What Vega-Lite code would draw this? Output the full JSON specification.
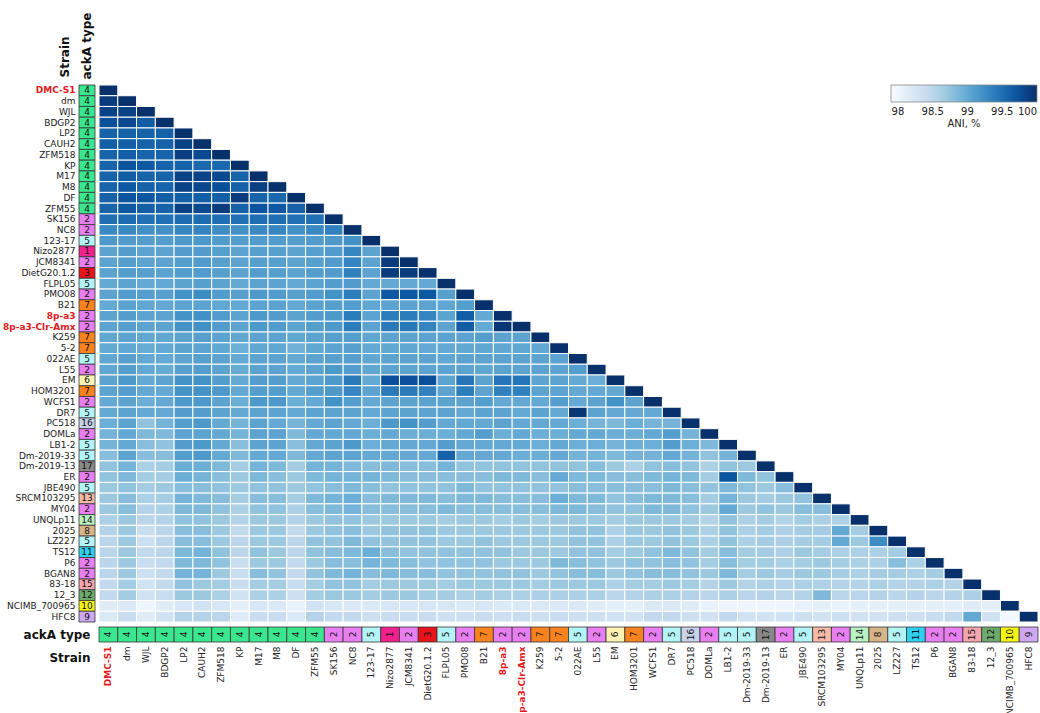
{
"$schema": "https://vega.github.io/schema/vega-lite/v6.json",
"background": "white",
"padding": {"left": 2, "top": 12, "right": 4, "bottom": 0},
"config": {
  "font": "DejaVu Sans",
  "view": {"stroke": null},
  "axis": {"labelFont": "DejaVu Sans", "titleFont": "DejaVu Sans", "labelColor": "#222", "titleColor": "#111", "domain": false, "ticks": false, "grid": false, "labelOverlap": false}
},
"columns": 2,
"bounds": "flush",
"spacing": {"row": 5, "column": 4},
"resolve": {"scale": {"color": "independent"}, "legend": {"color": "independent"}},
"datasets": {
"ack": [
{"strain":"DMC-S1","type":4},{"strain":"dm","type":4},{"strain":"WJL","type":4},{"strain":"BDGP2","type":4},{"strain":"LP2","type":4},{"strain":"CAUH2","type":4},{"strain":"ZFM518","type":4},{"strain":"KP","type":4},{"strain":"M17","type":4},{"strain":"M8","type":4},{"strain":"DF","type":4},{"strain":"ZFM55","type":4},{"strain":"SK156","type":2},{"strain":"NC8","type":2},{"strain":"123-17","type":5},{"strain":"Nizo2877","type":1},{"strain":"JCM8341","type":2},{"strain":"DietG20.1.2","type":3},{"strain":"FLPL05","type":5},{"strain":"PMO08","type":2},{"strain":"B21","type":7},{"strain":"8p-a3","type":2},{"strain":"8p-a3-Clr-Amx","type":2},{"strain":"K259","type":7},{"strain":"5-2","type":7},{"strain":"022AE","type":5},{"strain":"L55","type":2},{"strain":"EM","type":6},{"strain":"HOM3201","type":7},{"strain":"WCFS1","type":2},{"strain":"DR7","type":5},{"strain":"PC518","type":16},{"strain":"DOMLa","type":2},{"strain":"LB1-2","type":5},{"strain":"Dm-2019-33","type":5},{"strain":"Dm-2019-13","type":17},{"strain":"ER","type":2},{"strain":"JBE490","type":5},{"strain":"SRCM103295","type":13},{"strain":"MY04","type":2},{"strain":"UNQLp11","type":14},{"strain":"2025","type":8},{"strain":"LZ227","type":5},{"strain":"TS12","type":11},{"strain":"P6","type":2},{"strain":"BGAN8","type":2},{"strain":"83-18","type":15},{"strain":"12_3","type":12},{"strain":"NCIMB_700965","type":10},{"strain":"HFC8","type":9}
],
"ani": [
{"r":"DMC-S1","c":"DMC-S1","v":100},
{"r":"dm","c":"DMC-S1","v":99.9},{"r":"dm","c":"dm","v":100},
{"r":"WJL","c":"DMC-S1","v":99.85},{"r":"WJL","c":"dm","v":99.85},{"r":"WJL","c":"WJL","v":100},
{"r":"BDGP2","c":"DMC-S1","v":99.75},{"r":"BDGP2","c":"dm","v":99.8},{"r":"BDGP2","c":"WJL","v":99.65},{"r":"BDGP2","c":"BDGP2","v":100},
{"r":"LP2","c":"DMC-S1","v":99.6},{"r":"LP2","c":"dm","v":99.6},{"r":"LP2","c":"WJL","v":99.6},{"r":"LP2","c":"BDGP2","v":99.6},{"r":"LP2","c":"LP2","v":100},
{"r":"CAUH2","c":"DMC-S1","v":99.62},{"r":"CAUH2","c":"dm","v":99.62},{"r":"CAUH2","c":"WJL","v":99.6},{"r":"CAUH2","c":"BDGP2","v":99.6},{"r":"CAUH2","c":"LP2","v":99.85},{"r":"CAUH2","c":"CAUH2","v":100},
{"r":"ZFM518","c":"DMC-S1","v":99.58},{"r":"ZFM518","c":"dm","v":99.62},{"r":"ZFM518","c":"WJL","v":99.58},{"r":"ZFM518","c":"BDGP2","v":99.58},{"r":"ZFM518","c":"LP2","v":99.88},{"r":"ZFM518","c":"CAUH2","v":99.8},{"r":"ZFM518","c":"ZFM518","v":100},
{"r":"KP","c":"DMC-S1","v":99.58},{"r":"KP","c":"dm","v":99.72},{"r":"KP","c":"WJL","v":99.68},{"r":"KP","c":"BDGP2","v":99.58},{"r":"KP","c":"LP2","v":99.6},{"r":"KP","c":"CAUH2","v":99.55},{"r":"KP","c":"ZFM518","v":99.55},{"r":"KP","c":"KP","v":100},
{"r":"M17","c":"DMC-S1","v":99.58},{"r":"M17","c":"dm","v":99.65},{"r":"M17","c":"WJL","v":99.58},{"r":"M17","c":"BDGP2","v":99.58},{"r":"M17","c":"LP2","v":99.85},{"r":"M17","c":"CAUH2","v":99.85},{"r":"M17","c":"ZFM518","v":99.8},{"r":"M17","c":"KP","v":99.58},{"r":"M17","c":"M17","v":100},
{"r":"M8","c":"DMC-S1","v":99.58},{"r":"M8","c":"dm","v":99.68},{"r":"M8","c":"WJL","v":99.6},{"r":"M8","c":"BDGP2","v":99.58},{"r":"M8","c":"LP2","v":99.85},{"r":"M8","c":"CAUH2","v":99.82},{"r":"M8","c":"ZFM518","v":99.75},{"r":"M8","c":"KP","v":99.6},{"r":"M8","c":"M17","v":99.88},{"r":"M8","c":"M8","v":100},
{"r":"DF","c":"DMC-S1","v":99.6},{"r":"DF","c":"dm","v":99.72},{"r":"DF","c":"WJL","v":99.7},{"r":"DF","c":"BDGP2","v":99.62},{"r":"DF","c":"LP2","v":99.62},{"r":"DF","c":"CAUH2","v":99.62},{"r":"DF","c":"ZFM518","v":99.62},{"r":"DF","c":"KP","v":99.9},{"r":"DF","c":"M17","v":99.58},{"r":"DF","c":"M8","v":99.55},{"r":"DF","c":"DF","v":100},
{"r":"ZFM55","c":"DMC-S1","v":99.58},{"r":"ZFM55","c":"dm","v":99.68},{"r":"ZFM55","c":"WJL","v":99.62},{"r":"ZFM55","c":"BDGP2","v":99.6},{"r":"ZFM55","c":"LP2","v":99.85},{"r":"ZFM55","c":"CAUH2","v":99.8},{"r":"ZFM55","c":"ZFM518","v":99.9},{"r":"ZFM55","c":"KP","v":99.6},{"r":"ZFM55","c":"M17","v":99.72},{"r":"ZFM55","c":"M8","v":99.68},{"r":"ZFM55","c":"DF","v":99.6},{"r":"ZFM55","c":"ZFM55","v":100},
{"r":"SK156","c":"DMC-S1","v":99.5},{"r":"SK156","c":"dm","v":99.52},{"r":"SK156","c":"WJL","v":99.48},{"r":"SK156","c":"BDGP2","v":99.48},{"r":"SK156","c":"LP2","v":99.52},{"r":"SK156","c":"CAUH2","v":99.52},{"r":"SK156","c":"ZFM518","v":99.5},{"r":"SK156","c":"KP","v":99.48},{"r":"SK156","c":"M17","v":99.5},{"r":"SK156","c":"M8","v":99.5},{"r":"SK156","c":"DF","v":99.48},{"r":"SK156","c":"ZFM55","v":99.48},{"r":"SK156","c":"SK156","v":100},
{"r":"NC8","c":"DMC-S1","v":99.28},{"r":"NC8","c":"dm","v":99.28},{"r":"NC8","c":"WJL","v":99.22},{"r":"NC8","c":"BDGP2","v":99.22},{"r":"NC8","c":"LP2","v":99.3},{"r":"NC8","c":"CAUH2","v":99.32},{"r":"NC8","c":"ZFM518","v":99.25},{"r":"NC8","c":"KP","v":99.22},{"r":"NC8","c":"M17","v":99.28},{"r":"NC8","c":"M8","v":99.3},{"r":"NC8","c":"DF","v":99.22},{"r":"NC8","c":"ZFM55","v":99.28},{"r":"NC8","c":"SK156","v":99.35},{"r":"NC8","c":"NC8","v":100},
{"r":"123-17","c":"DMC-S1","v":99.15},{"r":"123-17","c":"dm","v":99.12},{"r":"123-17","c":"WJL","v":99.1},{"r":"123-17","c":"BDGP2","v":99.1},{"r":"123-17","c":"LP2","v":99.15},{"r":"123-17","c":"CAUH2","v":99.15},{"r":"123-17","c":"ZFM518","v":99.12},{"r":"123-17","c":"KP","v":99.1},{"r":"123-17","c":"M17","v":99.12},{"r":"123-17","c":"M8","v":99.12},{"r":"123-17","c":"DF","v":99.1},{"r":"123-17","c":"ZFM55","v":99.12},{"r":"123-17","c":"SK156","v":99.15},{"r":"123-17","c":"NC8","v":99.2},{"r":"123-17","c":"123-17","v":100},
{"r":"Nizo2877","c":"DMC-S1","v":99.05},{"r":"Nizo2877","c":"dm","v":99.1},{"r":"Nizo2877","c":"WJL","v":99.05},{"r":"Nizo2877","c":"BDGP2","v":99.05},{"r":"Nizo2877","c":"LP2","v":99.1},{"r":"Nizo2877","c":"CAUH2","v":99.12},{"r":"Nizo2877","c":"ZFM518","v":99.08},{"r":"Nizo2877","c":"KP","v":99.05},{"r":"Nizo2877","c":"M17","v":99.08},{"r":"Nizo2877","c":"M8","v":99.08},{"r":"Nizo2877","c":"DF","v":99.05},{"r":"Nizo2877","c":"ZFM55","v":99.08},{"r":"Nizo2877","c":"SK156","v":99.12},{"r":"Nizo2877","c":"NC8","v":99.3},{"r":"Nizo2877","c":"123-17","v":99.05},{"r":"Nizo2877","c":"Nizo2877","v":100},
{"r":"JCM8341","c":"DMC-S1","v":99.05},{"r":"JCM8341","c":"dm","v":99.1},{"r":"JCM8341","c":"WJL","v":99.05},{"r":"JCM8341","c":"BDGP2","v":99.05},{"r":"JCM8341","c":"LP2","v":99.1},{"r":"JCM8341","c":"CAUH2","v":99.12},{"r":"JCM8341","c":"ZFM518","v":99.08},{"r":"JCM8341","c":"KP","v":99.05},{"r":"JCM8341","c":"M17","v":99.08},{"r":"JCM8341","c":"M8","v":99.08},{"r":"JCM8341","c":"DF","v":99.05},{"r":"JCM8341","c":"ZFM55","v":99.08},{"r":"JCM8341","c":"SK156","v":99.12},{"r":"JCM8341","c":"NC8","v":99.32},{"r":"JCM8341","c":"123-17","v":99.05},{"r":"JCM8341","c":"Nizo2877","v":99.9},{"r":"JCM8341","c":"JCM8341","v":100},
{"r":"DietG20.1.2","c":"DMC-S1","v":99.05},{"r":"DietG20.1.2","c":"dm","v":99.1},{"r":"DietG20.1.2","c":"WJL","v":99.08},{"r":"DietG20.1.2","c":"BDGP2","v":99.05},{"r":"DietG20.1.2","c":"LP2","v":99.1},{"r":"DietG20.1.2","c":"CAUH2","v":99.12},{"r":"DietG20.1.2","c":"ZFM518","v":99.08},{"r":"DietG20.1.2","c":"KP","v":99.05},{"r":"DietG20.1.2","c":"M17","v":99.1},{"r":"DietG20.1.2","c":"M8","v":99.08},{"r":"DietG20.1.2","c":"DF","v":99.05},{"r":"DietG20.1.2","c":"ZFM55","v":99.1},{"r":"DietG20.1.2","c":"SK156","v":99.12},{"r":"DietG20.1.2","c":"NC8","v":99.35},{"r":"DietG20.1.2","c":"123-17","v":99.05},{"r":"DietG20.1.2","c":"Nizo2877","v":99.9},{"r":"DietG20.1.2","c":"JCM8341","v":99.9},{"r":"DietG20.1.2","c":"DietG20.1.2","v":100},
{"r":"FLPL05","c":"DMC-S1","v":99.0},{"r":"FLPL05","c":"dm","v":99.05},{"r":"FLPL05","c":"WJL","v":99.0},{"r":"FLPL05","c":"BDGP2","v":99.0},{"r":"FLPL05","c":"LP2","v":99.05},{"r":"FLPL05","c":"CAUH2","v":99.08},{"r":"FLPL05","c":"ZFM518","v":99.05},{"r":"FLPL05","c":"KP","v":99.0},{"r":"FLPL05","c":"M17","v":99.05},{"r":"FLPL05","c":"M8","v":99.05},{"r":"FLPL05","c":"DF","v":99.0},{"r":"FLPL05","c":"ZFM55","v":99.05},{"r":"FLPL05","c":"SK156","v":99.1},{"r":"FLPL05","c":"NC8","v":99.12},{"r":"FLPL05","c":"123-17","v":99.0},{"r":"FLPL05","c":"Nizo2877","v":99.0},{"r":"FLPL05","c":"JCM8341","v":99.0},{"r":"FLPL05","c":"DietG20.1.2","v":99.0},{"r":"FLPL05","c":"FLPL05","v":100},
{"r":"PMO08","c":"DMC-S1","v":99.05},{"r":"PMO08","c":"dm","v":99.12},{"r":"PMO08","c":"WJL","v":99.1},{"r":"PMO08","c":"BDGP2","v":99.08},{"r":"PMO08","c":"LP2","v":99.2},{"r":"PMO08","c":"CAUH2","v":99.25},{"r":"PMO08","c":"ZFM518","v":99.12},{"r":"PMO08","c":"KP","v":99.08},{"r":"PMO08","c":"M17","v":99.15},{"r":"PMO08","c":"M8","v":99.12},{"r":"PMO08","c":"DF","v":99.08},{"r":"PMO08","c":"ZFM55","v":99.12},{"r":"PMO08","c":"SK156","v":99.2},{"r":"PMO08","c":"NC8","v":99.38},{"r":"PMO08","c":"123-17","v":99.05},{"r":"PMO08","c":"Nizo2877","v":99.68},{"r":"PMO08","c":"JCM8341","v":99.68},{"r":"PMO08","c":"DietG20.1.2","v":99.68},{"r":"PMO08","c":"FLPL05","v":99.08},{"r":"PMO08","c":"PMO08","v":100},
{"r":"B21","c":"DMC-S1","v":99.0},{"r":"B21","c":"dm","v":99.05},{"r":"B21","c":"WJL","v":99.02},{"r":"B21","c":"BDGP2","v":99.0},{"r":"B21","c":"LP2","v":99.05},{"r":"B21","c":"CAUH2","v":99.05},{"r":"B21","c":"ZFM518","v":99.02},{"r":"B21","c":"KP","v":99.0},{"r":"B21","c":"M17","v":99.05},{"r":"B21","c":"M8","v":99.05},{"r":"B21","c":"DF","v":99.0},{"r":"B21","c":"ZFM55","v":99.05},{"r":"B21","c":"SK156","v":99.08},{"r":"B21","c":"NC8","v":99.1},{"r":"B21","c":"123-17","v":99.02},{"r":"B21","c":"Nizo2877","v":99.05},{"r":"B21","c":"JCM8341","v":99.05},{"r":"B21","c":"DietG20.1.2","v":99.05},{"r":"B21","c":"FLPL05","v":99.02},{"r":"B21","c":"PMO08","v":99.1},{"r":"B21","c":"B21","v":100},
{"r":"8p-a3","c":"DMC-S1","v":99.05},{"r":"8p-a3","c":"dm","v":99.1},{"r":"8p-a3","c":"WJL","v":99.05},{"r":"8p-a3","c":"BDGP2","v":99.05},{"r":"8p-a3","c":"LP2","v":99.2},{"r":"8p-a3","c":"CAUH2","v":99.22},{"r":"8p-a3","c":"ZFM518","v":99.12},{"r":"8p-a3","c":"KP","v":99.05},{"r":"8p-a3","c":"M17","v":99.15},{"r":"8p-a3","c":"M8","v":99.12},{"r":"8p-a3","c":"DF","v":99.05},{"r":"8p-a3","c":"ZFM55","v":99.1},{"r":"8p-a3","c":"SK156","v":99.15},{"r":"8p-a3","c":"NC8","v":99.38},{"r":"8p-a3","c":"123-17","v":99.05},{"r":"8p-a3","c":"Nizo2877","v":99.38},{"r":"8p-a3","c":"JCM8341","v":99.38},{"r":"8p-a3","c":"DietG20.1.2","v":99.32},{"r":"8p-a3","c":"FLPL05","v":99.05},{"r":"8p-a3","c":"PMO08","v":99.65},{"r":"8p-a3","c":"B21","v":99.0},{"r":"8p-a3","c":"8p-a3","v":100},
{"r":"8p-a3-Clr-Amx","c":"DMC-S1","v":99.05},{"r":"8p-a3-Clr-Amx","c":"dm","v":99.1},{"r":"8p-a3-Clr-Amx","c":"WJL","v":99.05},{"r":"8p-a3-Clr-Amx","c":"BDGP2","v":99.05},{"r":"8p-a3-Clr-Amx","c":"LP2","v":99.2},{"r":"8p-a3-Clr-Amx","c":"CAUH2","v":99.22},{"r":"8p-a3-Clr-Amx","c":"ZFM518","v":99.12},{"r":"8p-a3-Clr-Amx","c":"KP","v":99.05},{"r":"8p-a3-Clr-Amx","c":"M17","v":99.15},{"r":"8p-a3-Clr-Amx","c":"M8","v":99.12},{"r":"8p-a3-Clr-Amx","c":"DF","v":99.05},{"r":"8p-a3-Clr-Amx","c":"ZFM55","v":99.1},{"r":"8p-a3-Clr-Amx","c":"SK156","v":99.15},{"r":"8p-a3-Clr-Amx","c":"NC8","v":99.38},{"r":"8p-a3-Clr-Amx","c":"123-17","v":99.05},{"r":"8p-a3-Clr-Amx","c":"Nizo2877","v":99.4},{"r":"8p-a3-Clr-Amx","c":"JCM8341","v":99.42},{"r":"8p-a3-Clr-Amx","c":"DietG20.1.2","v":99.32},{"r":"8p-a3-Clr-Amx","c":"FLPL05","v":99.05},{"r":"8p-a3-Clr-Amx","c":"PMO08","v":99.65},{"r":"8p-a3-Clr-Amx","c":"B21","v":99.0},{"r":"8p-a3-Clr-Amx","c":"8p-a3","v":99.95},{"r":"8p-a3-Clr-Amx","c":"8p-a3-Clr-Amx","v":100},
{"r":"K259","c":"DMC-S1","v":99.02},{"r":"K259","c":"dm","v":99.05},{"r":"K259","c":"WJL","v":99.02},{"r":"K259","c":"BDGP2","v":99.02},{"r":"K259","c":"LP2","v":99.05},{"r":"K259","c":"CAUH2","v":99.08},{"r":"K259","c":"ZFM518","v":99.05},{"r":"K259","c":"KP","v":99.02},{"r":"K259","c":"M17","v":99.05},{"r":"K259","c":"M8","v":99.05},{"r":"K259","c":"DF","v":99.02},{"r":"K259","c":"ZFM55","v":99.05},{"r":"K259","c":"SK156","v":99.08},{"r":"K259","c":"NC8","v":99.1},{"r":"K259","c":"123-17","v":99.02},{"r":"K259","c":"Nizo2877","v":99.05},{"r":"K259","c":"JCM8341","v":99.05},{"r":"K259","c":"DietG20.1.2","v":99.05},{"r":"K259","c":"FLPL05","v":99.05},{"r":"K259","c":"PMO08","v":99.05},{"r":"K259","c":"B21","v":99.1},{"r":"K259","c":"8p-a3","v":99.05},{"r":"K259","c":"8p-a3-Clr-Amx","v":99.05},{"r":"K259","c":"K259","v":100},
{"r":"5-2","c":"DMC-S1","v":99.0},{"r":"5-2","c":"dm","v":99.02},{"r":"5-2","c":"WJL","v":98.98},{"r":"5-2","c":"BDGP2","v":99.0},{"r":"5-2","c":"LP2","v":99.05},{"r":"5-2","c":"CAUH2","v":99.05},{"r":"5-2","c":"ZFM518","v":99.02},{"r":"5-2","c":"KP","v":98.95},{"r":"5-2","c":"M17","v":99.02},{"r":"5-2","c":"M8","v":99.02},{"r":"5-2","c":"DF","v":98.92},{"r":"5-2","c":"ZFM55","v":99.02},{"r":"5-2","c":"SK156","v":99.05},{"r":"5-2","c":"NC8","v":99.08},{"r":"5-2","c":"123-17","v":99.0},{"r":"5-2","c":"Nizo2877","v":99.02},{"r":"5-2","c":"JCM8341","v":99.02},{"r":"5-2","c":"DietG20.1.2","v":99.0},{"r":"5-2","c":"FLPL05","v":99.0},{"r":"5-2","c":"PMO08","v":99.02},{"r":"5-2","c":"B21","v":99.02},{"r":"5-2","c":"8p-a3","v":99.02},{"r":"5-2","c":"8p-a3-Clr-Amx","v":99.02},{"r":"5-2","c":"K259","v":99.02},{"r":"5-2","c":"5-2","v":100},
{"r":"022AE","c":"DMC-S1","v":99.02},{"r":"022AE","c":"dm","v":99.08},{"r":"022AE","c":"WJL","v":99.0},{"r":"022AE","c":"BDGP2","v":99.0},{"r":"022AE","c":"LP2","v":99.05},{"r":"022AE","c":"CAUH2","v":99.08},{"r":"022AE","c":"ZFM518","v":99.05},{"r":"022AE","c":"KP","v":99.0},{"r":"022AE","c":"M17","v":99.05},{"r":"022AE","c":"M8","v":99.05},{"r":"022AE","c":"DF","v":99.0},{"r":"022AE","c":"ZFM55","v":99.05},{"r":"022AE","c":"SK156","v":99.08},{"r":"022AE","c":"NC8","v":99.08},{"r":"022AE","c":"123-17","v":99.02},{"r":"022AE","c":"Nizo2877","v":99.05},{"r":"022AE","c":"JCM8341","v":99.05},{"r":"022AE","c":"DietG20.1.2","v":99.05},{"r":"022AE","c":"FLPL05","v":99.02},{"r":"022AE","c":"PMO08","v":99.05},{"r":"022AE","c":"B21","v":99.05},{"r":"022AE","c":"8p-a3","v":99.05},{"r":"022AE","c":"8p-a3-Clr-Amx","v":99.05},{"r":"022AE","c":"K259","v":99.05},{"r":"022AE","c":"5-2","v":99.05},{"r":"022AE","c":"022AE","v":100},
{"r":"L55","c":"DMC-S1","v":99.02},{"r":"L55","c":"dm","v":99.1},{"r":"L55","c":"WJL","v":99.0},{"r":"L55","c":"BDGP2","v":98.98},{"r":"L55","c":"LP2","v":99.08},{"r":"L55","c":"CAUH2","v":99.1},{"r":"L55","c":"ZFM518","v":99.05},{"r":"L55","c":"KP","v":98.98},{"r":"L55","c":"M17","v":99.05},{"r":"L55","c":"M8","v":99.05},{"r":"L55","c":"DF","v":99.0},{"r":"L55","c":"ZFM55","v":99.05},{"r":"L55","c":"SK156","v":99.15},{"r":"L55","c":"NC8","v":99.1},{"r":"L55","c":"123-17","v":99.02},{"r":"L55","c":"Nizo2877","v":99.05},{"r":"L55","c":"JCM8341","v":99.05},{"r":"L55","c":"DietG20.1.2","v":99.05},{"r":"L55","c":"FLPL05","v":99.05},{"r":"L55","c":"PMO08","v":99.05},{"r":"L55","c":"B21","v":99.02},{"r":"L55","c":"8p-a3","v":99.05},{"r":"L55","c":"8p-a3-Clr-Amx","v":99.05},{"r":"L55","c":"K259","v":99.05},{"r":"L55","c":"5-2","v":99.05},{"r":"L55","c":"022AE","v":99.1},{"r":"L55","c":"L55","v":100},
{"r":"EM","c":"DMC-S1","v":99.05},{"r":"EM","c":"dm","v":99.15},{"r":"EM","c":"WJL","v":99.0},{"r":"EM","c":"BDGP2","v":99.05},{"r":"EM","c":"LP2","v":99.2},{"r":"EM","c":"CAUH2","v":99.2},{"r":"EM","c":"ZFM518","v":99.1},{"r":"EM","c":"KP","v":99.0},{"r":"EM","c":"M17","v":99.1},{"r":"EM","c":"M8","v":99.1},{"r":"EM","c":"DF","v":99.0},{"r":"EM","c":"ZFM55","v":99.05},{"r":"EM","c":"SK156","v":99.15},{"r":"EM","c":"NC8","v":99.4},{"r":"EM","c":"123-17","v":99.0},{"r":"EM","c":"Nizo2877","v":99.75},{"r":"EM","c":"JCM8341","v":99.75},{"r":"EM","c":"DietG20.1.2","v":99.75},{"r":"EM","c":"FLPL05","v":99.05},{"r":"EM","c":"PMO08","v":99.45},{"r":"EM","c":"B21","v":99.05},{"r":"EM","c":"8p-a3","v":99.45},{"r":"EM","c":"8p-a3-Clr-Amx","v":99.45},{"r":"EM","c":"K259","v":99.05},{"r":"EM","c":"5-2","v":99.05},{"r":"EM","c":"022AE","v":99.0},{"r":"EM","c":"L55","v":98.95},{"r":"EM","c":"EM","v":100},
{"r":"HOM3201","c":"DMC-S1","v":99.05},{"r":"HOM3201","c":"dm","v":99.1},{"r":"HOM3201","c":"WJL","v":99.0},{"r":"HOM3201","c":"BDGP2","v":99.0},{"r":"HOM3201","c":"LP2","v":99.2},{"r":"HOM3201","c":"CAUH2","v":99.2},{"r":"HOM3201","c":"ZFM518","v":99.15},{"r":"HOM3201","c":"KP","v":99.0},{"r":"HOM3201","c":"M17","v":99.1},{"r":"HOM3201","c":"M8","v":99.1},{"r":"HOM3201","c":"DF","v":99.0},{"r":"HOM3201","c":"ZFM55","v":99.1},{"r":"HOM3201","c":"SK156","v":99.15},{"r":"HOM3201","c":"NC8","v":99.3},{"r":"HOM3201","c":"123-17","v":99.05},{"r":"HOM3201","c":"Nizo2877","v":99.4},{"r":"HOM3201","c":"JCM8341","v":99.4},{"r":"HOM3201","c":"DietG20.1.2","v":99.35},{"r":"HOM3201","c":"FLPL05","v":99.05},{"r":"HOM3201","c":"PMO08","v":99.38},{"r":"HOM3201","c":"B21","v":99.05},{"r":"HOM3201","c":"8p-a3","v":99.35},{"r":"HOM3201","c":"8p-a3-Clr-Amx","v":99.35},{"r":"HOM3201","c":"K259","v":99.05},{"r":"HOM3201","c":"5-2","v":99.05},{"r":"HOM3201","c":"022AE","v":99.0},{"r":"HOM3201","c":"L55","v":99.0},{"r":"HOM3201","c":"EM","v":99.0},{"r":"HOM3201","c":"HOM3201","v":100},
{"r":"WCFS1","c":"DMC-S1","v":99.0},{"r":"WCFS1","c":"dm","v":99.05},{"r":"WCFS1","c":"WJL","v":98.95},{"r":"WCFS1","c":"BDGP2","v":99.0},{"r":"WCFS1","c":"LP2","v":99.15},{"r":"WCFS1","c":"CAUH2","v":99.15},{"r":"WCFS1","c":"ZFM518","v":99.05},{"r":"WCFS1","c":"KP","v":98.95},{"r":"WCFS1","c":"M17","v":99.15},{"r":"WCFS1","c":"M8","v":99.15},{"r":"WCFS1","c":"DF","v":98.95},{"r":"WCFS1","c":"ZFM55","v":99.0},{"r":"WCFS1","c":"SK156","v":99.2},{"r":"WCFS1","c":"NC8","v":99.1},{"r":"WCFS1","c":"123-17","v":99.0},{"r":"WCFS1","c":"Nizo2877","v":99.05},{"r":"WCFS1","c":"JCM8341","v":99.05},{"r":"WCFS1","c":"DietG20.1.2","v":99.05},{"r":"WCFS1","c":"FLPL05","v":99.05},{"r":"WCFS1","c":"PMO08","v":99.05},{"r":"WCFS1","c":"B21","v":99.1},{"r":"WCFS1","c":"8p-a3","v":99.0},{"r":"WCFS1","c":"8p-a3-Clr-Amx","v":99.0},{"r":"WCFS1","c":"K259","v":99.0},{"r":"WCFS1","c":"5-2","v":99.1},{"r":"WCFS1","c":"022AE","v":99.0},{"r":"WCFS1","c":"L55","v":99.05},{"r":"WCFS1","c":"EM","v":99.2},{"r":"WCFS1","c":"HOM3201","v":99.05},{"r":"WCFS1","c":"WCFS1","v":100},
{"r":"DR7","c":"DMC-S1","v":99.0},{"r":"DR7","c":"dm","v":99.05},{"r":"DR7","c":"WJL","v":99.0},{"r":"DR7","c":"BDGP2","v":99.0},{"r":"DR7","c":"LP2","v":99.1},{"r":"DR7","c":"CAUH2","v":99.1},{"r":"DR7","c":"ZFM518","v":99.05},{"r":"DR7","c":"KP","v":99.0},{"r":"DR7","c":"M17","v":99.05},{"r":"DR7","c":"M8","v":99.05},{"r":"DR7","c":"DF","v":99.0},{"r":"DR7","c":"ZFM55","v":99.05},{"r":"DR7","c":"SK156","v":99.05},{"r":"DR7","c":"NC8","v":99.05},{"r":"DR7","c":"123-17","v":99.0},{"r":"DR7","c":"Nizo2877","v":99.05},{"r":"DR7","c":"JCM8341","v":99.05},{"r":"DR7","c":"DietG20.1.2","v":99.05},{"r":"DR7","c":"FLPL05","v":99.05},{"r":"DR7","c":"PMO08","v":99.0},{"r":"DR7","c":"B21","v":99.05},{"r":"DR7","c":"8p-a3","v":99.05},{"r":"DR7","c":"8p-a3-Clr-Amx","v":99.0},{"r":"DR7","c":"K259","v":99.05},{"r":"DR7","c":"5-2","v":99.0},{"r":"DR7","c":"022AE","v":99.95},{"r":"DR7","c":"L55","v":99.05},{"r":"DR7","c":"EM","v":99.0},{"r":"DR7","c":"HOM3201","v":99.0},{"r":"DR7","c":"WCFS1","v":99.0},{"r":"DR7","c":"DR7","v":100},
{"r":"PC518","c":"DMC-S1","v":98.95},{"r":"PC518","c":"dm","v":99.05},{"r":"PC518","c":"WJL","v":98.75},{"r":"PC518","c":"BDGP2","v":98.9},{"r":"PC518","c":"LP2","v":99.1},{"r":"PC518","c":"CAUH2","v":99.15},{"r":"PC518","c":"ZFM518","v":99.0},{"r":"PC518","c":"KP","v":98.9},{"r":"PC518","c":"M17","v":99.05},{"r":"PC518","c":"M8","v":99.0},{"r":"PC518","c":"DF","v":98.9},{"r":"PC518","c":"ZFM55","v":99.0},{"r":"PC518","c":"SK156","v":99.05},{"r":"PC518","c":"NC8","v":99.0},{"r":"PC518","c":"123-17","v":98.95},{"r":"PC518","c":"Nizo2877","v":99.15},{"r":"PC518","c":"JCM8341","v":99.2},{"r":"PC518","c":"DietG20.1.2","v":99.1},{"r":"PC518","c":"FLPL05","v":99.0},{"r":"PC518","c":"PMO08","v":99.0},{"r":"PC518","c":"B21","v":99.0},{"r":"PC518","c":"8p-a3","v":99.05},{"r":"PC518","c":"8p-a3-Clr-Amx","v":99.0},{"r":"PC518","c":"K259","v":99.0},{"r":"PC518","c":"5-2","v":99.0},{"r":"PC518","c":"022AE","v":98.95},{"r":"PC518","c":"L55","v":98.9},{"r":"PC518","c":"EM","v":98.85},{"r":"PC518","c":"HOM3201","v":98.95},{"r":"PC518","c":"WCFS1","v":98.9},{"r":"PC518","c":"DR7","v":98.9},{"r":"PC518","c":"PC518","v":100},
{"r":"DOMLa","c":"DMC-S1","v":98.9},{"r":"DOMLa","c":"dm","v":99.0},{"r":"DOMLa","c":"WJL","v":98.85},{"r":"DOMLa","c":"BDGP2","v":98.85},{"r":"DOMLa","c":"LP2","v":99.05},{"r":"DOMLa","c":"CAUH2","v":99.05},{"r":"DOMLa","c":"ZFM518","v":99.0},{"r":"DOMLa","c":"KP","v":98.9},{"r":"DOMLa","c":"M17","v":99.05},{"r":"DOMLa","c":"M8","v":99.05},{"r":"DOMLa","c":"DF","v":98.85},{"r":"DOMLa","c":"ZFM55","v":99.0},{"r":"DOMLa","c":"SK156","v":99.0},{"r":"DOMLa","c":"NC8","v":99.0},{"r":"DOMLa","c":"123-17","v":98.95},{"r":"DOMLa","c":"Nizo2877","v":99.0},{"r":"DOMLa","c":"JCM8341","v":98.95},{"r":"DOMLa","c":"DietG20.1.2","v":98.95},{"r":"DOMLa","c":"FLPL05","v":98.95},{"r":"DOMLa","c":"PMO08","v":99.0},{"r":"DOMLa","c":"B21","v":99.1},{"r":"DOMLa","c":"8p-a3","v":98.95},{"r":"DOMLa","c":"8p-a3-Clr-Amx","v":99.0},{"r":"DOMLa","c":"K259","v":98.95},{"r":"DOMLa","c":"5-2","v":98.95},{"r":"DOMLa","c":"022AE","v":99.0},{"r":"DOMLa","c":"L55","v":99.0},{"r":"DOMLa","c":"EM","v":98.95},{"r":"DOMLa","c":"HOM3201","v":98.95},{"r":"DOMLa","c":"WCFS1","v":99.0},{"r":"DOMLa","c":"DR7","v":99.1},{"r":"DOMLa","c":"PC518","v":98.9},{"r":"DOMLa","c":"DOMLa","v":100},
{"r":"LB1-2","c":"DMC-S1","v":98.9},{"r":"LB1-2","c":"dm","v":99.0},{"r":"LB1-2","c":"WJL","v":98.8},{"r":"LB1-2","c":"BDGP2","v":98.75},{"r":"LB1-2","c":"LP2","v":99.1},{"r":"LB1-2","c":"CAUH2","v":99.15},{"r":"LB1-2","c":"ZFM518","v":99.0},{"r":"LB1-2","c":"KP","v":98.8},{"r":"LB1-2","c":"M17","v":99.05},{"r":"LB1-2","c":"M8","v":99.05},{"r":"LB1-2","c":"DF","v":98.8},{"r":"LB1-2","c":"ZFM55","v":99.0},{"r":"LB1-2","c":"SK156","v":99.05},{"r":"LB1-2","c":"NC8","v":99.15},{"r":"LB1-2","c":"123-17","v":98.95},{"r":"LB1-2","c":"Nizo2877","v":99.0},{"r":"LB1-2","c":"JCM8341","v":99.0},{"r":"LB1-2","c":"DietG20.1.2","v":99.0},{"r":"LB1-2","c":"FLPL05","v":99.1},{"r":"LB1-2","c":"PMO08","v":99.0},{"r":"LB1-2","c":"B21","v":99.0},{"r":"LB1-2","c":"8p-a3","v":99.0},{"r":"LB1-2","c":"8p-a3-Clr-Amx","v":99.0},{"r":"LB1-2","c":"K259","v":98.95},{"r":"LB1-2","c":"5-2","v":99.0},{"r":"LB1-2","c":"022AE","v":98.95},{"r":"LB1-2","c":"L55","v":98.95},{"r":"LB1-2","c":"EM","v":98.9},{"r":"LB1-2","c":"HOM3201","v":98.95},{"r":"LB1-2","c":"WCFS1","v":98.95},{"r":"LB1-2","c":"DR7","v":99.1},{"r":"LB1-2","c":"PC518","v":98.95},{"r":"LB1-2","c":"DOMLa","v":98.85},{"r":"LB1-2","c":"LB1-2","v":100},
{"r":"Dm-2019-33","c":"DMC-S1","v":98.8},{"r":"Dm-2019-33","c":"dm","v":99.05},{"r":"Dm-2019-33","c":"WJL","v":98.8},{"r":"Dm-2019-33","c":"BDGP2","v":98.8},{"r":"Dm-2019-33","c":"LP2","v":99.1},{"r":"Dm-2019-33","c":"CAUH2","v":99.15},{"r":"Dm-2019-33","c":"ZFM518","v":99.0},{"r":"Dm-2019-33","c":"KP","v":98.85},{"r":"Dm-2019-33","c":"M17","v":99.0},{"r":"Dm-2019-33","c":"M8","v":99.0},{"r":"Dm-2019-33","c":"DF","v":98.85},{"r":"Dm-2019-33","c":"ZFM55","v":99.0},{"r":"Dm-2019-33","c":"SK156","v":99.05},{"r":"Dm-2019-33","c":"NC8","v":99.05},{"r":"Dm-2019-33","c":"123-17","v":99.0},{"r":"Dm-2019-33","c":"Nizo2877","v":99.0},{"r":"Dm-2019-33","c":"JCM8341","v":99.0},{"r":"Dm-2019-33","c":"DietG20.1.2","v":99.0},{"r":"Dm-2019-33","c":"FLPL05","v":99.6},{"r":"Dm-2019-33","c":"PMO08","v":99.0},{"r":"Dm-2019-33","c":"B21","v":99.0},{"r":"Dm-2019-33","c":"8p-a3","v":99.0},{"r":"Dm-2019-33","c":"8p-a3-Clr-Amx","v":98.95},{"r":"Dm-2019-33","c":"K259","v":98.95},{"r":"Dm-2019-33","c":"5-2","v":99.0},{"r":"Dm-2019-33","c":"022AE","v":98.9},{"r":"Dm-2019-33","c":"L55","v":98.9},{"r":"Dm-2019-33","c":"EM","v":98.85},{"r":"Dm-2019-33","c":"HOM3201","v":98.9},{"r":"Dm-2019-33","c":"WCFS1","v":98.9},{"r":"Dm-2019-33","c":"DR7","v":99.0},{"r":"Dm-2019-33","c":"PC518","v":98.9},{"r":"Dm-2019-33","c":"DOMLa","v":98.75},{"r":"Dm-2019-33","c":"LB1-2","v":98.9},{"r":"Dm-2019-33","c":"Dm-2019-33","v":100},
{"r":"Dm-2019-13","c":"DMC-S1","v":98.75},{"r":"Dm-2019-13","c":"dm","v":98.9},{"r":"Dm-2019-13","c":"WJL","v":98.6},{"r":"Dm-2019-13","c":"BDGP2","v":98.65},{"r":"Dm-2019-13","c":"LP2","v":98.95},{"r":"Dm-2019-13","c":"CAUH2","v":98.95},{"r":"Dm-2019-13","c":"ZFM518","v":98.85},{"r":"Dm-2019-13","c":"KP","v":98.65},{"r":"Dm-2019-13","c":"M17","v":98.9},{"r":"Dm-2019-13","c":"M8","v":98.85},{"r":"Dm-2019-13","c":"DF","v":98.65},{"r":"Dm-2019-13","c":"ZFM55","v":98.9},{"r":"Dm-2019-13","c":"SK156","v":98.9},{"r":"Dm-2019-13","c":"NC8","v":98.85},{"r":"Dm-2019-13","c":"123-17","v":98.8},{"r":"Dm-2019-13","c":"Nizo2877","v":98.85},{"r":"Dm-2019-13","c":"JCM8341","v":98.8},{"r":"Dm-2019-13","c":"DietG20.1.2","v":98.8},{"r":"Dm-2019-13","c":"FLPL05","v":98.9},{"r":"Dm-2019-13","c":"PMO08","v":98.75},{"r":"Dm-2019-13","c":"B21","v":98.75},{"r":"Dm-2019-13","c":"8p-a3","v":98.75},{"r":"Dm-2019-13","c":"8p-a3-Clr-Amx","v":98.75},{"r":"Dm-2019-13","c":"K259","v":98.75},{"r":"Dm-2019-13","c":"5-2","v":98.75},{"r":"Dm-2019-13","c":"022AE","v":98.75},{"r":"Dm-2019-13","c":"L55","v":98.8},{"r":"Dm-2019-13","c":"EM","v":98.7},{"r":"Dm-2019-13","c":"HOM3201","v":98.6},{"r":"Dm-2019-13","c":"WCFS1","v":98.75},{"r":"Dm-2019-13","c":"DR7","v":98.8},{"r":"Dm-2019-13","c":"PC518","v":98.75},{"r":"Dm-2019-13","c":"DOMLa","v":98.6},{"r":"Dm-2019-13","c":"LB1-2","v":98.75},{"r":"Dm-2019-13","c":"Dm-2019-33","v":98.7},{"r":"Dm-2019-13","c":"Dm-2019-13","v":100},
{"r":"ER","c":"DMC-S1","v":98.75},{"r":"ER","c":"dm","v":98.85},{"r":"ER","c":"WJL","v":98.65},{"r":"ER","c":"BDGP2","v":98.65},{"r":"ER","c":"LP2","v":98.95},{"r":"ER","c":"CAUH2","v":98.9},{"r":"ER","c":"ZFM518","v":98.8},{"r":"ER","c":"KP","v":98.7},{"r":"ER","c":"M17","v":98.85},{"r":"ER","c":"M8","v":98.8},{"r":"ER","c":"DF","v":98.7},{"r":"ER","c":"ZFM55","v":98.85},{"r":"ER","c":"SK156","v":98.9},{"r":"ER","c":"NC8","v":98.9},{"r":"ER","c":"123-17","v":98.9},{"r":"ER","c":"Nizo2877","v":98.85},{"r":"ER","c":"JCM8341","v":98.8},{"r":"ER","c":"DietG20.1.2","v":98.8},{"r":"ER","c":"FLPL05","v":98.8},{"r":"ER","c":"PMO08","v":98.8},{"r":"ER","c":"B21","v":98.8},{"r":"ER","c":"8p-a3","v":98.85},{"r":"ER","c":"8p-a3-Clr-Amx","v":98.85},{"r":"ER","c":"K259","v":98.8},{"r":"ER","c":"5-2","v":99.0},{"r":"ER","c":"022AE","v":98.85},{"r":"ER","c":"L55","v":98.85},{"r":"ER","c":"EM","v":98.8},{"r":"ER","c":"HOM3201","v":98.8},{"r":"ER","c":"WCFS1","v":98.85},{"r":"ER","c":"DR7","v":98.9},{"r":"ER","c":"PC518","v":98.85},{"r":"ER","c":"DOMLa","v":98.65},{"r":"ER","c":"LB1-2","v":99.7},{"r":"ER","c":"Dm-2019-33","v":98.85},{"r":"ER","c":"Dm-2019-13","v":98.75},{"r":"ER","c":"ER","v":100},
{"r":"JBE490","c":"DMC-S1","v":98.7},{"r":"JBE490","c":"dm","v":98.75},{"r":"JBE490","c":"WJL","v":98.65},{"r":"JBE490","c":"BDGP2","v":98.7},{"r":"JBE490","c":"LP2","v":98.8},{"r":"JBE490","c":"CAUH2","v":98.8},{"r":"JBE490","c":"ZFM518","v":98.75},{"r":"JBE490","c":"KP","v":98.7},{"r":"JBE490","c":"M17","v":98.75},{"r":"JBE490","c":"M8","v":98.75},{"r":"JBE490","c":"DF","v":98.7},{"r":"JBE490","c":"ZFM55","v":98.75},{"r":"JBE490","c":"SK156","v":98.8},{"r":"JBE490","c":"NC8","v":98.85},{"r":"JBE490","c":"123-17","v":98.8},{"r":"JBE490","c":"Nizo2877","v":98.75},{"r":"JBE490","c":"JCM8341","v":98.75},{"r":"JBE490","c":"DietG20.1.2","v":98.75},{"r":"JBE490","c":"FLPL05","v":98.75},{"r":"JBE490","c":"PMO08","v":98.85},{"r":"JBE490","c":"B21","v":98.75},{"r":"JBE490","c":"8p-a3","v":98.75},{"r":"JBE490","c":"8p-a3-Clr-Amx","v":98.75},{"r":"JBE490","c":"K259","v":98.75},{"r":"JBE490","c":"5-2","v":98.75},{"r":"JBE490","c":"022AE","v":98.8},{"r":"JBE490","c":"L55","v":98.8},{"r":"JBE490","c":"EM","v":98.8},{"r":"JBE490","c":"HOM3201","v":98.8},{"r":"JBE490","c":"WCFS1","v":98.8},{"r":"JBE490","c":"DR7","v":98.85},{"r":"JBE490","c":"PC518","v":98.8},{"r":"JBE490","c":"DOMLa","v":98.75},{"r":"JBE490","c":"LB1-2","v":98.85},{"r":"JBE490","c":"Dm-2019-33","v":98.75},{"r":"JBE490","c":"Dm-2019-13","v":98.7},{"r":"JBE490","c":"ER","v":98.8},{"r":"JBE490","c":"JBE490","v":100},
{"r":"SRCM103295","c":"DMC-S1","v":98.7},{"r":"SRCM103295","c":"dm","v":98.8},{"r":"SRCM103295","c":"WJL","v":98.6},{"r":"SRCM103295","c":"BDGP2","v":98.65},{"r":"SRCM103295","c":"LP2","v":98.9},{"r":"SRCM103295","c":"CAUH2","v":98.85},{"r":"SRCM103295","c":"ZFM518","v":98.8},{"r":"SRCM103295","c":"KP","v":98.65},{"r":"SRCM103295","c":"M17","v":98.8},{"r":"SRCM103295","c":"M8","v":98.8},{"r":"SRCM103295","c":"DF","v":98.65},{"r":"SRCM103295","c":"ZFM55","v":98.85},{"r":"SRCM103295","c":"SK156","v":98.9},{"r":"SRCM103295","c":"NC8","v":98.95},{"r":"SRCM103295","c":"123-17","v":98.8},{"r":"SRCM103295","c":"Nizo2877","v":98.85},{"r":"SRCM103295","c":"JCM8341","v":98.85},{"r":"SRCM103295","c":"DietG20.1.2","v":98.85},{"r":"SRCM103295","c":"FLPL05","v":98.8},{"r":"SRCM103295","c":"PMO08","v":98.85},{"r":"SRCM103295","c":"B21","v":98.85},{"r":"SRCM103295","c":"8p-a3","v":98.8},{"r":"SRCM103295","c":"8p-a3-Clr-Amx","v":98.8},{"r":"SRCM103295","c":"K259","v":98.8},{"r":"SRCM103295","c":"5-2","v":98.95},{"r":"SRCM103295","c":"022AE","v":98.85},{"r":"SRCM103295","c":"L55","v":98.85},{"r":"SRCM103295","c":"EM","v":98.75},{"r":"SRCM103295","c":"HOM3201","v":98.8},{"r":"SRCM103295","c":"WCFS1","v":98.85},{"r":"SRCM103295","c":"DR7","v":98.85},{"r":"SRCM103295","c":"PC518","v":98.8},{"r":"SRCM103295","c":"DOMLa","v":98.65},{"r":"SRCM103295","c":"LB1-2","v":98.9},{"r":"SRCM103295","c":"Dm-2019-33","v":98.7},{"r":"SRCM103295","c":"Dm-2019-13","v":98.65},{"r":"SRCM103295","c":"ER","v":98.7},{"r":"SRCM103295","c":"JBE490","v":98.75},{"r":"SRCM103295","c":"SRCM103295","v":100},
{"r":"MY04","c":"DMC-S1","v":98.7},{"r":"MY04","c":"dm","v":98.8},{"r":"MY04","c":"WJL","v":98.55},{"r":"MY04","c":"BDGP2","v":98.6},{"r":"MY04","c":"LP2","v":98.85},{"r":"MY04","c":"CAUH2","v":98.85},{"r":"MY04","c":"ZFM518","v":98.75},{"r":"MY04","c":"KP","v":98.6},{"r":"MY04","c":"M17","v":98.75},{"r":"MY04","c":"M8","v":98.75},{"r":"MY04","c":"DF","v":98.6},{"r":"MY04","c":"ZFM55","v":98.8},{"r":"MY04","c":"SK156","v":98.85},{"r":"MY04","c":"NC8","v":98.9},{"r":"MY04","c":"123-17","v":98.8},{"r":"MY04","c":"Nizo2877","v":98.8},{"r":"MY04","c":"JCM8341","v":98.8},{"r":"MY04","c":"DietG20.1.2","v":98.8},{"r":"MY04","c":"FLPL05","v":98.85},{"r":"MY04","c":"PMO08","v":98.8},{"r":"MY04","c":"B21","v":98.8},{"r":"MY04","c":"8p-a3","v":98.8},{"r":"MY04","c":"8p-a3-Clr-Amx","v":98.8},{"r":"MY04","c":"K259","v":98.8},{"r":"MY04","c":"5-2","v":98.85},{"r":"MY04","c":"022AE","v":98.85},{"r":"MY04","c":"L55","v":98.8},{"r":"MY04","c":"EM","v":98.75},{"r":"MY04","c":"HOM3201","v":98.75},{"r":"MY04","c":"WCFS1","v":98.85},{"r":"MY04","c":"DR7","v":98.85},{"r":"MY04","c":"PC518","v":98.75},{"r":"MY04","c":"DOMLa","v":98.7},{"r":"MY04","c":"LB1-2","v":99.0},{"r":"MY04","c":"Dm-2019-33","v":98.7},{"r":"MY04","c":"Dm-2019-13","v":98.75},{"r":"MY04","c":"ER","v":98.7},{"r":"MY04","c":"JBE490","v":98.8},{"r":"MY04","c":"SRCM103295","v":98.8},{"r":"MY04","c":"MY04","v":100},
{"r":"UNQLp11","c":"DMC-S1","v":98.6},{"r":"UNQLp11","c":"dm","v":98.7},{"r":"UNQLp11","c":"WJL","v":98.5},{"r":"UNQLp11","c":"BDGP2","v":98.55},{"r":"UNQLp11","c":"LP2","v":98.75},{"r":"UNQLp11","c":"CAUH2","v":98.75},{"r":"UNQLp11","c":"ZFM518","v":98.7},{"r":"UNQLp11","c":"KP","v":98.55},{"r":"UNQLp11","c":"M17","v":98.7},{"r":"UNQLp11","c":"M8","v":98.7},{"r":"UNQLp11","c":"DF","v":98.55},{"r":"UNQLp11","c":"ZFM55","v":98.7},{"r":"UNQLp11","c":"SK156","v":98.75},{"r":"UNQLp11","c":"NC8","v":98.75},{"r":"UNQLp11","c":"123-17","v":98.7},{"r":"UNQLp11","c":"Nizo2877","v":98.7},{"r":"UNQLp11","c":"JCM8341","v":98.7},{"r":"UNQLp11","c":"DietG20.1.2","v":98.7},{"r":"UNQLp11","c":"FLPL05","v":98.65},{"r":"UNQLp11","c":"PMO08","v":98.7},{"r":"UNQLp11","c":"B21","v":98.7},{"r":"UNQLp11","c":"8p-a3","v":98.65},{"r":"UNQLp11","c":"8p-a3-Clr-Amx","v":98.7},{"r":"UNQLp11","c":"K259","v":98.65},{"r":"UNQLp11","c":"5-2","v":98.7},{"r":"UNQLp11","c":"022AE","v":98.7},{"r":"UNQLp11","c":"L55","v":98.7},{"r":"UNQLp11","c":"EM","v":98.65},{"r":"UNQLp11","c":"HOM3201","v":98.7},{"r":"UNQLp11","c":"WCFS1","v":98.7},{"r":"UNQLp11","c":"DR7","v":98.7},{"r":"UNQLp11","c":"PC518","v":98.65},{"r":"UNQLp11","c":"DOMLa","v":98.55},{"r":"UNQLp11","c":"LB1-2","v":98.75},{"r":"UNQLp11","c":"Dm-2019-33","v":98.6},{"r":"UNQLp11","c":"Dm-2019-13","v":98.65},{"r":"UNQLp11","c":"ER","v":98.55},{"r":"UNQLp11","c":"JBE490","v":98.65},{"r":"UNQLp11","c":"SRCM103295","v":98.6},{"r":"UNQLp11","c":"MY04","v":98.6},{"r":"UNQLp11","c":"UNQLp11","v":100},
{"r":"2025","c":"DMC-S1","v":98.55},{"r":"2025","c":"dm","v":98.7},{"r":"2025","c":"WJL","v":98.4},{"r":"2025","c":"BDGP2","v":98.5},{"r":"2025","c":"LP2","v":98.8},{"r":"2025","c":"CAUH2","v":98.8},{"r":"2025","c":"ZFM518","v":98.7},{"r":"2025","c":"KP","v":98.45},{"r":"2025","c":"M17","v":98.7},{"r":"2025","c":"M8","v":98.7},{"r":"2025","c":"DF","v":98.45},{"r":"2025","c":"ZFM55","v":98.7},{"r":"2025","c":"SK156","v":98.75},{"r":"2025","c":"NC8","v":98.8},{"r":"2025","c":"123-17","v":98.7},{"r":"2025","c":"Nizo2877","v":98.75},{"r":"2025","c":"JCM8341","v":98.75},{"r":"2025","c":"DietG20.1.2","v":98.75},{"r":"2025","c":"FLPL05","v":98.7},{"r":"2025","c":"PMO08","v":98.7},{"r":"2025","c":"B21","v":98.7},{"r":"2025","c":"8p-a3","v":98.7},{"r":"2025","c":"8p-a3-Clr-Amx","v":98.7},{"r":"2025","c":"K259","v":98.7},{"r":"2025","c":"5-2","v":98.7},{"r":"2025","c":"022AE","v":98.75},{"r":"2025","c":"L55","v":98.75},{"r":"2025","c":"EM","v":98.6},{"r":"2025","c":"HOM3201","v":98.7},{"r":"2025","c":"WCFS1","v":98.7},{"r":"2025","c":"DR7","v":98.75},{"r":"2025","c":"PC518","v":98.7},{"r":"2025","c":"DOMLa","v":98.6},{"r":"2025","c":"LB1-2","v":98.75},{"r":"2025","c":"Dm-2019-33","v":98.6},{"r":"2025","c":"Dm-2019-13","v":98.65},{"r":"2025","c":"ER","v":98.6},{"r":"2025","c":"JBE490","v":98.65},{"r":"2025","c":"SRCM103295","v":98.65},{"r":"2025","c":"MY04","v":99.0},{"r":"2025","c":"UNQLp11","v":98.65},{"r":"2025","c":"2025","v":100},
{"r":"LZ227","c":"DMC-S1","v":98.5},{"r":"LZ227","c":"dm","v":98.7},{"r":"LZ227","c":"WJL","v":98.35},{"r":"LZ227","c":"BDGP2","v":98.5},{"r":"LZ227","c":"LP2","v":98.8},{"r":"LZ227","c":"CAUH2","v":98.8},{"r":"LZ227","c":"ZFM518","v":98.7},{"r":"LZ227","c":"KP","v":98.5},{"r":"LZ227","c":"M17","v":98.7},{"r":"LZ227","c":"M8","v":98.7},{"r":"LZ227","c":"DF","v":98.5},{"r":"LZ227","c":"ZFM55","v":98.75},{"r":"LZ227","c":"SK156","v":98.75},{"r":"LZ227","c":"NC8","v":98.85},{"r":"LZ227","c":"123-17","v":98.75},{"r":"LZ227","c":"Nizo2877","v":98.75},{"r":"LZ227","c":"JCM8341","v":98.75},{"r":"LZ227","c":"DietG20.1.2","v":98.75},{"r":"LZ227","c":"FLPL05","v":98.7},{"r":"LZ227","c":"PMO08","v":98.7},{"r":"LZ227","c":"B21","v":98.75},{"r":"LZ227","c":"8p-a3","v":98.7},{"r":"LZ227","c":"8p-a3-Clr-Amx","v":98.7},{"r":"LZ227","c":"K259","v":98.7},{"r":"LZ227","c":"5-2","v":98.7},{"r":"LZ227","c":"022AE","v":98.75},{"r":"LZ227","c":"L55","v":98.75},{"r":"LZ227","c":"EM","v":98.6},{"r":"LZ227","c":"HOM3201","v":98.7},{"r":"LZ227","c":"WCFS1","v":98.7},{"r":"LZ227","c":"DR7","v":98.75},{"r":"LZ227","c":"PC518","v":98.7},{"r":"LZ227","c":"DOMLa","v":98.6},{"r":"LZ227","c":"LB1-2","v":98.75},{"r":"LZ227","c":"Dm-2019-33","v":98.6},{"r":"LZ227","c":"Dm-2019-13","v":98.65},{"r":"LZ227","c":"ER","v":98.6},{"r":"LZ227","c":"JBE490","v":98.65},{"r":"LZ227","c":"SRCM103295","v":98.65},{"r":"LZ227","c":"MY04","v":99.0},{"r":"LZ227","c":"UNQLp11","v":98.7},{"r":"LZ227","c":"2025","v":99.25},{"r":"LZ227","c":"LZ227","v":100},
{"r":"TS12","c":"DMC-S1","v":98.5},{"r":"TS12","c":"dm","v":98.7},{"r":"TS12","c":"WJL","v":98.45},{"r":"TS12","c":"BDGP2","v":98.5},{"r":"TS12","c":"LP2","v":98.85},{"r":"TS12","c":"CAUH2","v":98.9},{"r":"TS12","c":"ZFM518","v":98.75},{"r":"TS12","c":"KP","v":98.5},{"r":"TS12","c":"M17","v":98.75},{"r":"TS12","c":"M8","v":98.7},{"r":"TS12","c":"DF","v":98.5},{"r":"TS12","c":"ZFM55","v":98.75},{"r":"TS12","c":"SK156","v":98.8},{"r":"TS12","c":"NC8","v":98.85},{"r":"TS12","c":"123-17","v":98.95},{"r":"TS12","c":"Nizo2877","v":98.8},{"r":"TS12","c":"JCM8341","v":98.75},{"r":"TS12","c":"DietG20.1.2","v":98.75},{"r":"TS12","c":"FLPL05","v":98.75},{"r":"TS12","c":"PMO08","v":98.75},{"r":"TS12","c":"B21","v":98.75},{"r":"TS12","c":"8p-a3","v":98.75},{"r":"TS12","c":"8p-a3-Clr-Amx","v":98.7},{"r":"TS12","c":"K259","v":98.7},{"r":"TS12","c":"5-2","v":98.7},{"r":"TS12","c":"022AE","v":98.75},{"r":"TS12","c":"L55","v":98.75},{"r":"TS12","c":"EM","v":98.65},{"r":"TS12","c":"HOM3201","v":98.7},{"r":"TS12","c":"WCFS1","v":98.75},{"r":"TS12","c":"DR7","v":98.85},{"r":"TS12","c":"PC518","v":98.75},{"r":"TS12","c":"DOMLa","v":98.65},{"r":"TS12","c":"LB1-2","v":98.8},{"r":"TS12","c":"Dm-2019-33","v":98.65},{"r":"TS12","c":"Dm-2019-13","v":98.65},{"r":"TS12","c":"ER","v":98.6},{"r":"TS12","c":"JBE490","v":98.7},{"r":"TS12","c":"SRCM103295","v":98.65},{"r":"TS12","c":"MY04","v":98.6},{"r":"TS12","c":"UNQLp11","v":98.6},{"r":"TS12","c":"2025","v":98.6},{"r":"TS12","c":"LZ227","v":98.65},{"r":"TS12","c":"TS12","v":100},
{"r":"P6","c":"DMC-S1","v":98.5},{"r":"P6","c":"dm","v":98.7},{"r":"P6","c":"WJL","v":98.4},{"r":"P6","c":"BDGP2","v":98.45},{"r":"P6","c":"LP2","v":98.85},{"r":"P6","c":"CAUH2","v":98.85},{"r":"P6","c":"ZFM518","v":98.75},{"r":"P6","c":"KP","v":98.4},{"r":"P6","c":"M17","v":98.7},{"r":"P6","c":"M8","v":98.7},{"r":"P6","c":"DF","v":98.45},{"r":"P6","c":"ZFM55","v":98.7},{"r":"P6","c":"SK156","v":98.8},{"r":"P6","c":"NC8","v":98.8},{"r":"P6","c":"123-17","v":98.9},{"r":"P6","c":"Nizo2877","v":98.85},{"r":"P6","c":"JCM8341","v":98.8},{"r":"P6","c":"DietG20.1.2","v":98.75},{"r":"P6","c":"FLPL05","v":98.75},{"r":"P6","c":"PMO08","v":98.75},{"r":"P6","c":"B21","v":98.75},{"r":"P6","c":"8p-a3","v":98.7},{"r":"P6","c":"8p-a3-Clr-Amx","v":98.7},{"r":"P6","c":"K259","v":98.7},{"r":"P6","c":"5-2","v":98.85},{"r":"P6","c":"022AE","v":98.8},{"r":"P6","c":"L55","v":98.75},{"r":"P6","c":"EM","v":98.7},{"r":"P6","c":"HOM3201","v":98.75},{"r":"P6","c":"WCFS1","v":98.75},{"r":"P6","c":"DR7","v":98.8},{"r":"P6","c":"PC518","v":98.75},{"r":"P6","c":"DOMLa","v":98.65},{"r":"P6","c":"LB1-2","v":98.8},{"r":"P6","c":"Dm-2019-33","v":98.65},{"r":"P6","c":"Dm-2019-13","v":98.65},{"r":"P6","c":"ER","v":98.6},{"r":"P6","c":"JBE490","v":98.65},{"r":"P6","c":"SRCM103295","v":98.7},{"r":"P6","c":"MY04","v":98.65},{"r":"P6","c":"UNQLp11","v":98.6},{"r":"P6","c":"2025","v":98.6},{"r":"P6","c":"LZ227","v":98.8},{"r":"P6","c":"TS12","v":98.6},{"r":"P6","c":"P6","v":100},
{"r":"BGAN8","c":"DMC-S1","v":98.5},{"r":"BGAN8","c":"dm","v":98.7},{"r":"BGAN8","c":"WJL","v":98.35},{"r":"BGAN8","c":"BDGP2","v":98.45},{"r":"BGAN8","c":"LP2","v":98.9},{"r":"BGAN8","c":"CAUH2","v":98.9},{"r":"BGAN8","c":"ZFM518","v":98.7},{"r":"BGAN8","c":"KP","v":98.4},{"r":"BGAN8","c":"M17","v":98.8},{"r":"BGAN8","c":"M8","v":98.75},{"r":"BGAN8","c":"DF","v":98.45},{"r":"BGAN8","c":"ZFM55","v":98.75},{"r":"BGAN8","c":"SK156","v":98.85},{"r":"BGAN8","c":"NC8","v":98.9},{"r":"BGAN8","c":"123-17","v":98.8},{"r":"BGAN8","c":"Nizo2877","v":98.85},{"r":"BGAN8","c":"JCM8341","v":98.8},{"r":"BGAN8","c":"DietG20.1.2","v":98.8},{"r":"BGAN8","c":"FLPL05","v":98.75},{"r":"BGAN8","c":"PMO08","v":98.75},{"r":"BGAN8","c":"B21","v":98.75},{"r":"BGAN8","c":"8p-a3","v":98.75},{"r":"BGAN8","c":"8p-a3-Clr-Amx","v":98.75},{"r":"BGAN8","c":"K259","v":98.7},{"r":"BGAN8","c":"5-2","v":98.75},{"r":"BGAN8","c":"022AE","v":98.8},{"r":"BGAN8","c":"L55","v":98.8},{"r":"BGAN8","c":"EM","v":98.7},{"r":"BGAN8","c":"HOM3201","v":98.75},{"r":"BGAN8","c":"WCFS1","v":98.8},{"r":"BGAN8","c":"DR7","v":98.8},{"r":"BGAN8","c":"PC518","v":98.75},{"r":"BGAN8","c":"DOMLa","v":98.7},{"r":"BGAN8","c":"LB1-2","v":98.85},{"r":"BGAN8","c":"Dm-2019-33","v":98.65},{"r":"BGAN8","c":"Dm-2019-13","v":98.7},{"r":"BGAN8","c":"ER","v":98.65},{"r":"BGAN8","c":"JBE490","v":98.7},{"r":"BGAN8","c":"SRCM103295","v":98.7},{"r":"BGAN8","c":"MY04","v":98.65},{"r":"BGAN8","c":"UNQLp11","v":98.6},{"r":"BGAN8","c":"2025","v":98.65},{"r":"BGAN8","c":"LZ227","v":98.65},{"r":"BGAN8","c":"TS12","v":98.6},{"r":"BGAN8","c":"P6","v":98.65},{"r":"BGAN8","c":"BGAN8","v":100},
{"r":"83-18","c":"DMC-S1","v":98.45},{"r":"83-18","c":"dm","v":98.65},{"r":"83-18","c":"WJL","v":98.3},{"r":"83-18","c":"BDGP2","v":98.45},{"r":"83-18","c":"LP2","v":98.75},{"r":"83-18","c":"CAUH2","v":98.7},{"r":"83-18","c":"ZFM518","v":98.65},{"r":"83-18","c":"KP","v":98.4},{"r":"83-18","c":"M17","v":98.65},{"r":"83-18","c":"M8","v":98.65},{"r":"83-18","c":"DF","v":98.4},{"r":"83-18","c":"ZFM55","v":98.65},{"r":"83-18","c":"SK156","v":98.75},{"r":"83-18","c":"NC8","v":98.75},{"r":"83-18","c":"123-17","v":98.65},{"r":"83-18","c":"Nizo2877","v":98.7},{"r":"83-18","c":"JCM8341","v":98.7},{"r":"83-18","c":"DietG20.1.2","v":98.7},{"r":"83-18","c":"FLPL05","v":98.65},{"r":"83-18","c":"PMO08","v":98.7},{"r":"83-18","c":"B21","v":98.7},{"r":"83-18","c":"8p-a3","v":98.7},{"r":"83-18","c":"8p-a3-Clr-Amx","v":98.7},{"r":"83-18","c":"K259","v":98.65},{"r":"83-18","c":"5-2","v":98.7},{"r":"83-18","c":"022AE","v":98.7},{"r":"83-18","c":"L55","v":98.7},{"r":"83-18","c":"EM","v":98.6},{"r":"83-18","c":"HOM3201","v":98.65},{"r":"83-18","c":"WCFS1","v":98.65},{"r":"83-18","c":"DR7","v":98.7},{"r":"83-18","c":"PC518","v":98.65},{"r":"83-18","c":"DOMLa","v":98.55},{"r":"83-18","c":"LB1-2","v":98.7},{"r":"83-18","c":"Dm-2019-33","v":98.55},{"r":"83-18","c":"Dm-2019-13","v":98.6},{"r":"83-18","c":"ER","v":98.55},{"r":"83-18","c":"JBE490","v":98.6},{"r":"83-18","c":"SRCM103295","v":98.6},{"r":"83-18","c":"MY04","v":98.55},{"r":"83-18","c":"UNQLp11","v":98.55},{"r":"83-18","c":"2025","v":98.6},{"r":"83-18","c":"LZ227","v":98.55},{"r":"83-18","c":"TS12","v":98.55},{"r":"83-18","c":"P6","v":98.6},{"r":"83-18","c":"BGAN8","v":98.55},{"r":"83-18","c":"83-18","v":100},
{"r":"12_3","c":"DMC-S1","v":98.45},{"r":"12_3","c":"dm","v":98.65},{"r":"12_3","c":"WJL","v":98.3},{"r":"12_3","c":"BDGP2","v":98.4},{"r":"12_3","c":"LP2","v":98.7},{"r":"12_3","c":"CAUH2","v":98.7},{"r":"12_3","c":"ZFM518","v":98.6},{"r":"12_3","c":"KP","v":98.3},{"r":"12_3","c":"M17","v":98.6},{"r":"12_3","c":"M8","v":98.6},{"r":"12_3","c":"DF","v":98.35},{"r":"12_3","c":"ZFM55","v":98.65},{"r":"12_3","c":"SK156","v":98.7},{"r":"12_3","c":"NC8","v":98.7},{"r":"12_3","c":"123-17","v":98.65},{"r":"12_3","c":"Nizo2877","v":98.7},{"r":"12_3","c":"JCM8341","v":98.7},{"r":"12_3","c":"DietG20.1.2","v":98.65},{"r":"12_3","c":"FLPL05","v":98.65},{"r":"12_3","c":"PMO08","v":98.6},{"r":"12_3","c":"B21","v":98.65},{"r":"12_3","c":"8p-a3","v":98.6},{"r":"12_3","c":"8p-a3-Clr-Amx","v":98.6},{"r":"12_3","c":"K259","v":98.6},{"r":"12_3","c":"5-2","v":98.6},{"r":"12_3","c":"022AE","v":98.6},{"r":"12_3","c":"L55","v":98.6},{"r":"12_3","c":"EM","v":98.5},{"r":"12_3","c":"HOM3201","v":98.55},{"r":"12_3","c":"WCFS1","v":98.6},{"r":"12_3","c":"DR7","v":98.6},{"r":"12_3","c":"PC518","v":98.55},{"r":"12_3","c":"DOMLa","v":98.5},{"r":"12_3","c":"LB1-2","v":98.6},{"r":"12_3","c":"Dm-2019-33","v":98.5},{"r":"12_3","c":"Dm-2019-13","v":98.55},{"r":"12_3","c":"ER","v":98.5},{"r":"12_3","c":"JBE490","v":98.55},{"r":"12_3","c":"SRCM103295","v":98.85},{"r":"12_3","c":"MY04","v":98.5},{"r":"12_3","c":"UNQLp11","v":98.5},{"r":"12_3","c":"2025","v":98.55},{"r":"12_3","c":"LZ227","v":98.5},{"r":"12_3","c":"TS12","v":98.55},{"r":"12_3","c":"P6","v":98.5},{"r":"12_3","c":"BGAN8","v":98.55},{"r":"12_3","c":"83-18","v":98.6},{"r":"12_3","c":"12_3","v":100},
{"r":"NCIMB_700965","c":"DMC-S1","v":98.15},{"r":"NCIMB_700965","c":"dm","v":98.2},{"r":"NCIMB_700965","c":"WJL","v":98.0},{"r":"NCIMB_700965","c":"BDGP2","v":98.15},{"r":"NCIMB_700965","c":"LP2","v":98.25},{"r":"NCIMB_700965","c":"CAUH2","v":98.3},{"r":"NCIMB_700965","c":"ZFM518","v":98.25},{"r":"NCIMB_700965","c":"KP","v":98.1},{"r":"NCIMB_700965","c":"M17","v":98.25},{"r":"NCIMB_700965","c":"M8","v":98.2},{"r":"NCIMB_700965","c":"DF","v":98.05},{"r":"NCIMB_700965","c":"ZFM55","v":98.3},{"r":"NCIMB_700965","c":"SK156","v":98.25},{"r":"NCIMB_700965","c":"NC8","v":98.2},{"r":"NCIMB_700965","c":"123-17","v":98.2},{"r":"NCIMB_700965","c":"Nizo2877","v":98.25},{"r":"NCIMB_700965","c":"JCM8341","v":98.25},{"r":"NCIMB_700965","c":"DietG20.1.2","v":98.25},{"r":"NCIMB_700965","c":"FLPL05","v":98.25},{"r":"NCIMB_700965","c":"PMO08","v":98.2},{"r":"NCIMB_700965","c":"B21","v":98.25},{"r":"NCIMB_700965","c":"8p-a3","v":98.2},{"r":"NCIMB_700965","c":"8p-a3-Clr-Amx","v":98.2},{"r":"NCIMB_700965","c":"K259","v":98.2},{"r":"NCIMB_700965","c":"5-2","v":98.2},{"r":"NCIMB_700965","c":"022AE","v":98.2},{"r":"NCIMB_700965","c":"L55","v":98.15},{"r":"NCIMB_700965","c":"EM","v":98.1},{"r":"NCIMB_700965","c":"HOM3201","v":98.1},{"r":"NCIMB_700965","c":"WCFS1","v":98.2},{"r":"NCIMB_700965","c":"DR7","v":98.2},{"r":"NCIMB_700965","c":"PC518","v":98.15},{"r":"NCIMB_700965","c":"DOMLa","v":98.05},{"r":"NCIMB_700965","c":"LB1-2","v":98.0},{"r":"NCIMB_700965","c":"Dm-2019-33","v":98.0},{"r":"NCIMB_700965","c":"Dm-2019-13","v":98.0},{"r":"NCIMB_700965","c":"ER","v":98.0},{"r":"NCIMB_700965","c":"JBE490","v":98.05},{"r":"NCIMB_700965","c":"SRCM103295","v":98.1},{"r":"NCIMB_700965","c":"MY04","v":98.05},{"r":"NCIMB_700965","c":"UNQLp11","v":98.1},{"r":"NCIMB_700965","c":"2025","v":98.1},{"r":"NCIMB_700965","c":"LZ227","v":98.1},{"r":"NCIMB_700965","c":"TS12","v":98.1},{"r":"NCIMB_700965","c":"P6","v":98.1},{"r":"NCIMB_700965","c":"BGAN8","v":98.1},{"r":"NCIMB_700965","c":"83-18","v":98.15},{"r":"NCIMB_700965","c":"12_3","v":98.1},{"r":"NCIMB_700965","c":"NCIMB_700965","v":100},
{"r":"HFC8","c":"DMC-S1","v":98.2},{"r":"HFC8","c":"dm","v":98.4},{"r":"HFC8","c":"WJL","v":98.15},{"r":"HFC8","c":"BDGP2","v":98.3},{"r":"HFC8","c":"LP2","v":98.55},{"r":"HFC8","c":"CAUH2","v":98.55},{"r":"HFC8","c":"ZFM518","v":98.5},{"r":"HFC8","c":"KP","v":98.15},{"r":"HFC8","c":"M17","v":98.4},{"r":"HFC8","c":"M8","v":98.4},{"r":"HFC8","c":"DF","v":98.2},{"r":"HFC8","c":"ZFM55","v":98.55},{"r":"HFC8","c":"SK156","v":98.45},{"r":"HFC8","c":"NC8","v":98.45},{"r":"HFC8","c":"123-17","v":98.35},{"r":"HFC8","c":"Nizo2877","v":98.4},{"r":"HFC8","c":"JCM8341","v":98.4},{"r":"HFC8","c":"DietG20.1.2","v":98.4},{"r":"HFC8","c":"FLPL05","v":98.35},{"r":"HFC8","c":"PMO08","v":98.35},{"r":"HFC8","c":"B21","v":98.4},{"r":"HFC8","c":"8p-a3","v":98.35},{"r":"HFC8","c":"8p-a3-Clr-Amx","v":98.4},{"r":"HFC8","c":"K259","v":98.35},{"r":"HFC8","c":"5-2","v":98.4},{"r":"HFC8","c":"022AE","v":98.35},{"r":"HFC8","c":"L55","v":98.35},{"r":"HFC8","c":"EM","v":98.3},{"r":"HFC8","c":"HOM3201","v":98.3},{"r":"HFC8","c":"WCFS1","v":98.45},{"r":"HFC8","c":"DR7","v":98.45},{"r":"HFC8","c":"PC518","v":98.35},{"r":"HFC8","c":"DOMLa","v":98.3},{"r":"HFC8","c":"LB1-2","v":98.45},{"r":"HFC8","c":"Dm-2019-33","v":98.3},{"r":"HFC8","c":"Dm-2019-13","v":98.3},{"r":"HFC8","c":"ER","v":98.3},{"r":"HFC8","c":"JBE490","v":98.35},{"r":"HFC8","c":"SRCM103295","v":98.3},{"r":"HFC8","c":"MY04","v":98.35},{"r":"HFC8","c":"UNQLp11","v":98.3},{"r":"HFC8","c":"2025","v":98.3},{"r":"HFC8","c":"LZ227","v":98.35},{"r":"HFC8","c":"TS12","v":98.35},{"r":"HFC8","c":"P6","v":98.4},{"r":"HFC8","c":"BGAN8","v":98.45},{"r":"HFC8","c":"83-18","v":99.0},{"r":"HFC8","c":"12_3","v":98.3},{"r":"HFC8","c":"NCIMB_700965","v":97.95},{"r":"HFC8","c":"HFC8","v":100}
]
},
"concat": [
{
  "width": 16, "height": 537,
  "data": {"name": "ack"},
  "encoding": {
    "y": {"field": "strain", "type": "nominal",
      "scale": {"domain": ["DMC-S1","dm","WJL","BDGP2","LP2","CAUH2","ZFM518","KP","M17","M8","DF","ZFM55","SK156","NC8","123-17","Nizo2877","JCM8341","DietG20.1.2","FLPL05","PMO08","B21","8p-a3","8p-a3-Clr-Amx","K259","5-2","022AE","L55","EM","HOM3201","WCFS1","DR7","PC518","DOMLa","LB1-2","Dm-2019-33","Dm-2019-13","ER","JBE490","SRCM103295","MY04","UNQLp11","2025","LZ227","TS12","P6","BGAN8","83-18","12_3","NCIMB_700965","HFC8"], "paddingInner": 0, "paddingOuter": 0},
      "axis": {"title": "Strain", "titleAngle": -90, "titleX": -15, "titleY": -8, "titleAlign": "left", "titleBaseline": "middle", "titleFontWeight": "bold", "titleFontSize": 12,
        "labelFontSize": 9, "labelPadding": 4,
        "labelColor": {"condition": {"test": "indexof(['DMC-S1','8p-a3','8p-a3-Clr-Amx'], datum.value) >= 0", "value": "#e31a1c"}, "value": "#222"},
        "labelFontWeight": {"condition": {"test": "indexof(['DMC-S1','8p-a3','8p-a3-Clr-Amx'], datum.value) >= 0", "value": "bold"}, "value": "normal"}}},
    "x": {"datum": "ackA type", "type": "nominal", "scale": {"paddingInner": 0, "paddingOuter": 0},
      "axis": {"orient": "top", "title": null, "labelAngle": -90, "labelFontWeight": "bold", "labelFontSize": 12, "labelColor": "#111", "labelPadding": 6}}
  },
  "layer": [
    {"mark": {"type": "rect", "stroke": "#333", "strokeWidth": 0.8},
     "encoding": {"color": {"field": "type", "type": "nominal", "legend": null,
       "scale": {"domain": [1,2,3,4,5,6,7,8,9,10,11,12,13,14,15,16,17], "range": ["#f0208c","#e87ff0","#e8141c","#3ae68e","#b3f5f7","#fdf3b3","#f7821e","#d6b487","#cfa8f2","#f5f514","#2fd0f2","#6eaa6e","#f7b9a8","#b9f2c2","#f5a5ad","#c8d3ea","#888888"]}}}},
    {"mark": {"type": "text", "fontSize": 9, "color": "#111"}, "encoding": {"text": {"field": "type", "type": "nominal"}}}
  ]
},
{
  "width": 939, "height": 537,
  "data": {"name": "ani"},
  "mark": {"type": "rect", "stroke": "white", "strokeWidth": 1},
  "encoding": {
    "x": {"field": "c", "type": "nominal", "axis": null,
      "scale": {"domain": ["DMC-S1","dm","WJL","BDGP2","LP2","CAUH2","ZFM518","KP","M17","M8","DF","ZFM55","SK156","NC8","123-17","Nizo2877","JCM8341","DietG20.1.2","FLPL05","PMO08","B21","8p-a3","8p-a3-Clr-Amx","K259","5-2","022AE","L55","EM","HOM3201","WCFS1","DR7","PC518","DOMLa","LB1-2","Dm-2019-33","Dm-2019-13","ER","JBE490","SRCM103295","MY04","UNQLp11","2025","LZ227","TS12","P6","BGAN8","83-18","12_3","NCIMB_700965","HFC8"], "paddingInner": 0, "paddingOuter": 0}},
    "y": {"field": "r", "type": "nominal", "axis": null,
      "scale": {"domain": ["DMC-S1","dm","WJL","BDGP2","LP2","CAUH2","ZFM518","KP","M17","M8","DF","ZFM55","SK156","NC8","123-17","Nizo2877","JCM8341","DietG20.1.2","FLPL05","PMO08","B21","8p-a3","8p-a3-Clr-Amx","K259","5-2","022AE","L55","EM","HOM3201","WCFS1","DR7","PC518","DOMLa","LB1-2","Dm-2019-33","Dm-2019-13","ER","JBE490","SRCM103295","MY04","UNQLp11","2025","LZ227","TS12","P6","BGAN8","83-18","12_3","NCIMB_700965","HFC8"], "paddingInner": 0, "paddingOuter": 0}},
    "color": {"field": "v", "type": "quantitative",
      "scale": {"domain": [97.9, 100], "range": ["#f7fbff","#deebf7","#c6dbef","#9ecae1","#6baed6","#4292c6","#2171b5","#08519c","#08306b"]},
      "legend": {"orient": "top-right", "offset": 0, "padding": 0, "direction": "horizontal", "gradientLength": 146, "gradientThickness": 17,
        "title": "ANI, %", "titleOrient": "bottom", "titleAnchor": "middle", "titleFontWeight": "normal", "titleFontSize": 10, "titleColor": "#222", "titlePadding": 2,
        "values": [98, 98.5, 99, 99.5, 100], "labelExpr": "'' + datum.value", "labelOverlap": false, "labelFontSize": 10, "labelColor": "#222", "labelOffset": 5,
        "gradientStrokeColor": "#888", "gradientStrokeWidth": 0.8}}
  }
},
{
  "width": 16, "height": 15,
  "data": {"values": []},
  "mark": {"type": "point", "opacity": 0}
},
{
  "width": 939, "height": 15,
  "data": {"name": "ack"},
  "encoding": {
    "x": {"field": "strain", "type": "nominal",
      "scale": {"domain": ["DMC-S1","dm","WJL","BDGP2","LP2","CAUH2","ZFM518","KP","M17","M8","DF","ZFM55","SK156","NC8","123-17","Nizo2877","JCM8341","DietG20.1.2","FLPL05","PMO08","B21","8p-a3","8p-a3-Clr-Amx","K259","5-2","022AE","L55","EM","HOM3201","WCFS1","DR7","PC518","DOMLa","LB1-2","Dm-2019-33","Dm-2019-13","ER","JBE490","SRCM103295","MY04","UNQLp11","2025","LZ227","TS12","P6","BGAN8","83-18","12_3","NCIMB_700965","HFC8"], "paddingInner": 0, "paddingOuter": 0},
      "axis": {"title": "Strain", "titleX": -9, "titleY": 15, "titleAlign": "right", "titleBaseline": "middle", "titleAngle": 0, "titleFontWeight": "bold", "titleFontSize": 12,
        "labelAngle": -90, "labelFontSize": 9, "labelPadding": 4,
        "labelColor": {"condition": {"test": "indexof(['DMC-S1','8p-a3','8p-a3-Clr-Amx'], datum.value) >= 0", "value": "#e31a1c"}, "value": "#222"},
        "labelFontWeight": {"condition": {"test": "indexof(['DMC-S1','8p-a3','8p-a3-Clr-Amx'], datum.value) >= 0", "value": "bold"}, "value": "normal"}}},
    "y": {"datum": "ackA type", "type": "nominal", "scale": {"paddingInner": 0, "paddingOuter": 0},
      "axis": {"title": null, "labelFontWeight": "bold", "labelFontSize": 12, "labelColor": "#111", "labelPadding": 9}}
  },
  "layer": [
    {"mark": {"type": "rect", "stroke": "#333", "strokeWidth": 0.8},
     "encoding": {"color": {"field": "type", "type": "nominal", "legend": null,
       "scale": {"domain": [1,2,3,4,5,6,7,8,9,10,11,12,13,14,15,16,17], "range": ["#f0208c","#e87ff0","#e8141c","#3ae68e","#b3f5f7","#fdf3b3","#f7821e","#d6b487","#cfa8f2","#f5f514","#2fd0f2","#6eaa6e","#f7b9a8","#b9f2c2","#f5a5ad","#c8d3ea","#888888"]}}}},
    {"mark": {"type": "text", "fontSize": 9, "color": "#111", "angle": 270}, "encoding": {"text": {"field": "type", "type": "nominal"}}}
  ]
}
]
}
